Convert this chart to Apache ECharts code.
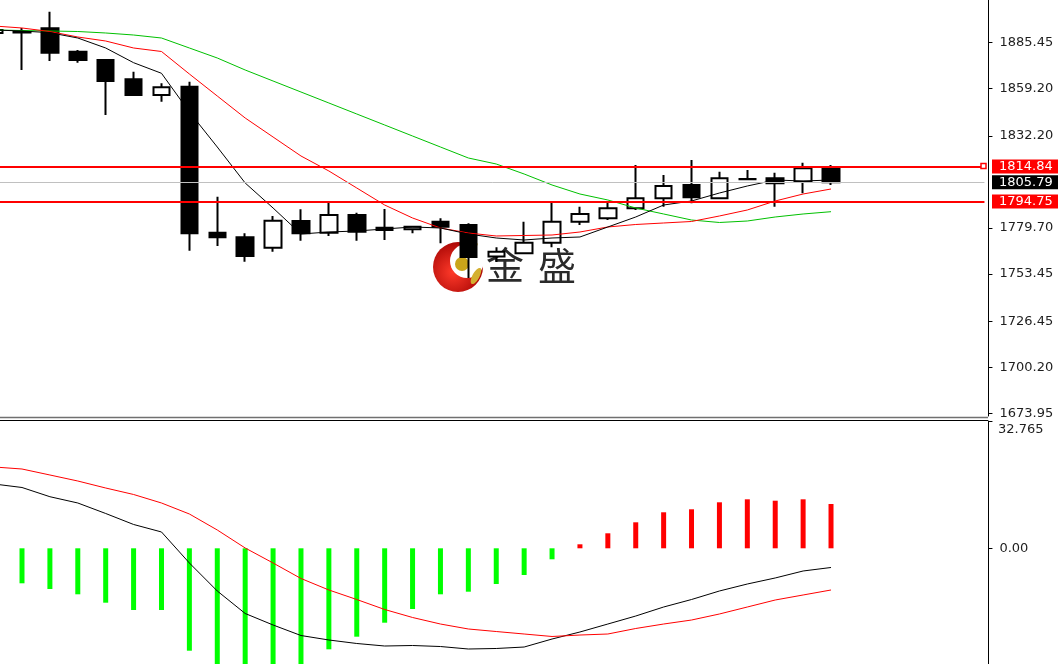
<!DOCTYPE html>
<html><head><meta charset="utf-8">
<script src="https://cdn.jsdelivr.net/npm/echarts@6/dist/echarts.min.js"></script>
<style>html,body{margin:0;padding:0;background:#fff;overflow:hidden}#c{width:1063px;height:664px}</style>
</head><body><div id="c"></div>
<script>
// ---- data ----
const categories = ['K00','K01','K02','K03','K04','K05','K06','K07','K08','K09','K10','K11','K12','K13','K14','K15','K16','K17','K18','K19','K20','K21','K22','K23','K24','K25','K26','K27','K28','K29','K30'];
const opens  = [1890.99,1891.56,1893.67,1880.31,1875.58,1864.56,1855.60,1860.34,1777.02,1774.39,1768.45,1783.69,1777.02,1787.12,1779.87,1778.96,1783.29,1781.41,1763.50,1765.26,1771.31,1783.29,1785.23,1790.94,1796.65,1804.24,1796.65,1807.66,1808.06,1806.12,1813.77];
const closes = [1892.70,1891.27,1879.74,1875.58,1863.59,1855.60,1860.00,1776.67,1774.39,1763.72,1783.86,1776.67,1787.12,1777.59,1778.56,1780.44,1780.44,1763.15,1766.20,1771.31,1783.29,1787.69,1790.94,1796.65,1803.67,1797.22,1808.06,1807.55,1805.21,1813.77,1805.79];
const lows   = [1888.13,1869.87,1875.01,1874.04,1844.19,1855.40,1851.78,1766.74,1769.43,1760.46,1766.17,1772.45,1775.13,1772.45,1772.85,1776.67,1770.97,1751.16,1760.30,1765.00,1768.68,1781.41,1784.26,1789.97,1791.85,1793.79,1796.50,1807.40,1791.85,1799.50,1804.24];
const highs  = [1893.84,1893.84,1903.14,1881.28,1875.80,1868.90,1862.28,1863.19,1797.56,1776.67,1786.55,1790.37,1794.71,1788.43,1790.54,1780.60,1785.23,1782.38,1768.70,1783.29,1794.71,1791.85,1794.71,1815.65,1809.95,1818.51,1811.83,1812.80,1811.26,1816.96,1815.65];
const maFast = [1892.70,1892.13,1891.16,1888.13,1882.43,1874.04,1867.99,1845.90,1825.92,1805.38,1791.11,1776.27,1777.42,1777.99,1779.13,1780.27,1779.70,1776.27,1773.99,1772.85,1773.99,1774.56,1780.27,1785.98,1792.82,1795.11,1799.67,1803.67,1807.09,1806.52,1807.09];
const maMid  = [1894.98,1893.84,1891.84,1888.70,1886.42,1882.43,1880.43,1867.59,1855.03,1842.48,1831.63,1820.79,1812.23,1802.53,1792.82,1785.41,1779.70,1776.84,1775.13,1775.42,1775.70,1777.42,1780.27,1781.70,1782.55,1783.41,1786.55,1789.97,1795.11,1799.10,1801.96];
const maSlow = [1892.70,1892.41,1892.13,1891.84,1890.99,1889.84,1888.13,1882.43,1876.72,1869.87,1863.59,1857.31,1851.04,1844.76,1838.48,1832.20,1825.92,1819.65,1816.22,1810.52,1804.24,1799.10,1795.68,1791.11,1787.69,1784.26,1782.84,1783.69,1785.98,1787.69,1789.00];
const macdHist = [-8.00,-9.01,-10.48,-11.84,-14.00,-15.88,-15.88,-26.36,-31.5,-33.7,-32.0,-30.2,-26.0,-22.75,-19.15,-15.62,-11.84,-11.17,-9.19,-6.87,-2.83,1.03,3.86,6.69,9.27,10.04,11.84,12.61,12.25,12.61,11.40];
const macdDif  = [16.55,15.65,13.28,11.66,8.96,6.13,4.20,-3.78,-10.99,-16.78,-19.74,-22.45,-23.60,-24.50,-25.15,-25.02,-25.28,-25.92,-25.79,-25.41,-23.35,-21.54,-19.49,-17.43,-15.11,-13.18,-10.99,-9.19,-7.64,-5.84,-4.94];
const macdDea  = [20.93,20.41,18.87,17.32,15.52,13.85,11.66,8.83,4.71,0.08,-3.78,-7.77,-10.73,-13.18,-15.75,-17.81,-19.49,-20.77,-21.42,-22.06,-22.70,-22.32,-22.06,-20.64,-19.49,-18.46,-16.91,-15.11,-13.31,-12.02,-10.73];
const priceTicks = [1885.45,1859.20,1832.20,1779.70,1753.45,1726.45,1700.20,1673.95];
const priceTopCut = 1911.70;
const levelHigh = 1814.84, levelLow = 1794.75, lastPrice = 1805.79;
const macdTicks = [0];
const macdMaxLabel = 32.765;
const watermark = ['金', '盛'];

// ---- chart ----
const idx = categories.map((c, i) => i);
const candleData = idx.map(i => [i, opens[i], closes[i], lows[i], highs[i]]);
const pairs = arr => idx.map(i => [i, arr[i]]);
const FONT = 'DejaVu Sans';
const X_MIN = 0.2114, X_MAX = 35.50;   // visible bar-index window

const chart = echarts.init(document.getElementById('c'), null, {renderer: 'canvas'});
const yBase = {
  type: 'value', position: 'right', offset: 4, splitLine: {show: false},
  axisLine: {show: true, onZero: false, lineStyle: {color: '#000', width: 1}},
};
const xBase = {type: 'value', min: X_MIN, max: X_MAX, show: false, splitLine: {show: false}};
chart.setOption({
  animation: false,
  backgroundColor: '#ffffff',
  grid: [
    {left: 0, right: 78.55, top: 0, height: 416, outerBoundsMode: 'none'},
    {left: 0, right: 78.55, top: 421, bottom: 0, outerBoundsMode: 'none'}
  ],
  xAxis: [
    Object.assign({gridIndex: 0}, xBase),
    Object.assign({gridIndex: 1}, xBase)
  ],
  yAxis: [
    Object.assign({}, yBase, {gridIndex: 0, min: 1672.40, max: 1909.82,
      axisTick: {show: true, length: 4, lineStyle: {color: '#000'}, customValues: priceTicks},
      axisLabel: {customValues: priceTicks, formatter: v => v.toFixed(2), color: '#1e1e1e', fontFamily: FONT, fontSize: 13, margin: 11}}),
    Object.assign({}, yBase, {gridIndex: 1, min: -29.78, max: 32.765,
      axisTick: {show: true, length: 4, lineStyle: {color: '#000'}, customValues: [0, macdMaxLabel]},
      axisLabel: {customValues: macdTicks, formatter: v => v.toFixed(2), color: '#1e1e1e', fontFamily: FONT, fontSize: 13, margin: 11}})
  ],
  series: [
    {type: 'candlestick', xAxisIndex: 0, yAxisIndex: 0, data: candleData, encode: {x: 0, y: [1, 2, 3, 4]}, barWidth: 17, clip: true,
      itemStyle: {color: '#ffffff', color0: '#000000', borderColor: '#000000', borderColor0: '#000000', borderWidth: 2},
      markLine: {silent: true, symbol: ['none', 'none'], label: {show: false}, animation: false,
        data: [
          {yAxis: levelHigh, lineStyle: {color: '#ff0000', width: 2, type: 'solid'}},
          {yAxis: lastPrice, lineStyle: {color: '#c0c0c0', width: 1, type: 'solid'}},
          {yAxis: levelLow, lineStyle: {color: '#ff0000', width: 2, type: 'solid'}}
        ]}},
    {type: 'line', xAxisIndex: 0, yAxisIndex: 0, data: pairs(maSlow), symbol: 'none', clip: true, lineStyle: {color: '#00c000', width: 1}},
    {type: 'line', xAxisIndex: 0, yAxisIndex: 0, data: pairs(maMid), symbol: 'none', clip: true, lineStyle: {color: '#ff0000', width: 1}},
    {type: 'line', xAxisIndex: 0, yAxisIndex: 0, data: pairs(maFast), symbol: 'none', clip: true, lineStyle: {color: '#000000', width: 1}},
    {type: 'bar', xAxisIndex: 1, yAxisIndex: 1, barWidth: 5, clip: true,
      data: idx.map(i => ({value: [i, macdHist[i]], itemStyle: {color: macdHist[i] >= 0 ? '#ff0000' : '#00ff00'}}))},
    {type: 'line', xAxisIndex: 1, yAxisIndex: 1, data: pairs(macdDif), symbol: 'none', clip: true, lineStyle: {color: '#000000', width: 1}},
    {type: 'line', xAxisIndex: 1, yAxisIndex: 1, data: pairs(macdDea), symbol: 'none', clip: true, lineStyle: {color: '#ff0000', width: 1}}
  ]
});

// ---- overlay labels and watermark ----
const py = v => chart.convertToPixel({yAxisIndex: 0}, v);
const my = v => chart.convertToPixel({yAxisIndex: 1}, v);
const AX = 988;
function priceTag(value, bg, dy) {
  const y = py(value) + dy;
  return [
    {type: 'rect', z: 50, shape: {x: AX + 4, y: y - 7, width: 66, height: 14}, style: {fill: bg}},
    {type: 'text', z: 51, x: AX + 11, y: y, style: {text: value.toFixed(2), fill: '#ffffff', font: '13px "DejaVu Sans"', textVerticalAlign: 'middle'}}
  ];
}
const yHigh = py(levelHigh);
const graphics = [
  {type: 'line', z: 40, shape: {x1: 0, y1: 417.5, x2: AX, y2: 417.5}, style: {stroke: '#707070', lineWidth: 1.5}},
  {type: 'line', z: 40, shape: {x1: 0, y1: 420.5, x2: AX, y2: 420.5}, style: {stroke: '#000000', lineWidth: 1}},
  {type: 'circle', z: -5, shape: {cx: 458, cy: 267, r: 25},
    style: {fill: new echarts.graphic.RadialGradient(0.4, 0.6, 0.7, [{offset: 0, color: '#ff3a2a'}, {offset: 1, color: '#9e0000'}])}},
  {type: 'circle', z: -4, shape: {cx: 467, cy: 261, r: 17}, style: {fill: '#ffffff'}},
  {type: 'circle', z: -3, shape: {cx: 462, cy: 264, r: 7}, style: {fill: '#c9a51a'}},
  {type: 'ellipse', z: -3, shape: {cx: 470, cy: 246, rx: 8, ry: 3.5}, rotation: 0.3, originX: 470, originY: 246, style: {fill: '#d4b030'}},
  {type: 'ellipse', z: -3, shape: {cx: 476, cy: 276, rx: 3.5, ry: 9}, rotation: -0.5, originX: 476, originY: 276, style: {fill: '#d4b030'}},
  {type: 'text', z: -2, x: 486, y: 246, style: {text: watermark[0], fill: '#2a2a2a', font: '38px "Noto Sans CJK SC"'}},
  {type: 'text', z: -2, x: 538, y: 247, style: {text: watermark[1], fill: '#2a2a2a', font: '38px "Noto Sans CJK SC"'}},
  {type: 'rect', z: 45, shape: {x: 981, y: yHigh - 3, width: 5, height: 5}, style: {fill: '#ffffff', stroke: '#ff0000', lineWidth: 1.5}},
  {type: 'text', z: 51, x: AX + 11, y: py(priceTopCut), style: {text: priceTopCut.toFixed(2), fill: '#1e1e1e', font: '13px "DejaVu Sans"', textVerticalAlign: 'middle'}},
  {type: 'text', z: 51, x: AX + 10, y: my(macdMaxLabel) + 2, style: {text: macdMaxLabel.toFixed(3), fill: '#1e1e1e', font: '13px "DejaVu Sans"', textVerticalAlign: 'top'}}
].concat(
  priceTag(levelHigh, '#ff0000', 0),
  priceTag(lastPrice, '#000000', 0),
  priceTag(levelLow, '#ff0000', 0)
);
chart.setOption({graphic: {elements: graphics}});
</script>
</body></html>
